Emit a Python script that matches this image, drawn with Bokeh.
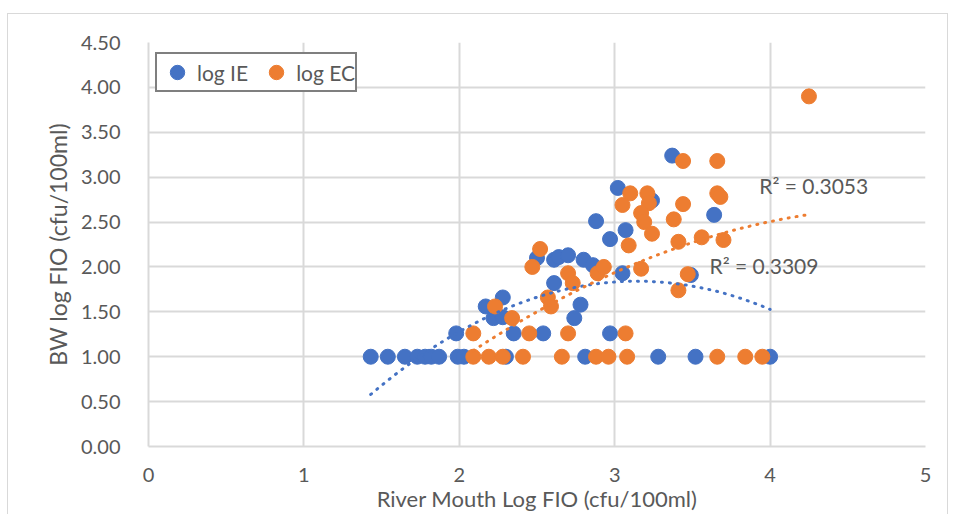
import numpy as np
from bokeh.plotting import figure
from bokeh.models import (ColumnDataSource, FixedTicker, PrintfTickFormatter,
                          Legend, LegendItem, Range1d)
from bokeh.embed import file_html
from bokeh.resources import INLINE
from bokeh.core.properties import value

# River mouth vs bathing water log FIO (cfu/100ml)
ie_x = [1.43, 1.54, 1.65, 1.73, 1.78, 1.82, 1.87, 1.99, 2.03, 2.30, 2.81, 3.28, 3.52, 4.00,
        1.98, 2.35, 2.54, 2.97,
        2.17, 2.28, 2.22, 2.28, 2.61, 2.78, 2.74,
        2.50, 2.61, 2.64, 2.70, 2.80, 2.86,
        3.02, 3.24, 2.88, 3.07, 2.97, 3.05, 3.49, 3.64, 3.37]
ie_y = [1.00, 1.00, 1.00, 1.00, 1.00, 1.00, 1.00, 1.00, 1.00, 1.00, 1.00, 1.00, 1.00, 1.00,
        1.26, 1.26, 1.26, 1.26,
        1.56, 1.66, 1.43, 1.44, 1.82, 1.58, 1.43,
        2.10, 2.08, 2.11, 2.13, 2.08, 2.02,
        2.88, 2.74, 2.51, 2.41, 2.31, 1.93, 1.91, 2.58, 3.24]

ec_x = [2.09, 2.19, 2.28, 2.41, 2.66, 2.88, 2.96, 3.08, 3.66, 3.84, 3.95,
        2.09, 2.45, 2.70, 3.07,
        2.23, 2.34, 2.57, 2.59, 2.52, 2.47, 2.70, 2.73, 2.89, 2.93,
        3.10, 3.21, 3.05, 3.22, 3.17, 3.19, 3.24, 3.09,
        3.44, 3.38, 3.41, 3.66, 3.68, 3.56, 3.70, 3.17, 3.47, 3.41,
        3.44, 3.66, 4.25]
ec_y = [1.00, 1.00, 1.00, 1.00, 1.00, 1.00, 1.00, 1.00, 1.00, 1.00, 1.00,
        1.26, 1.26, 1.26, 1.26,
        1.56, 1.43, 1.66, 1.56, 2.20, 2.00, 1.93, 1.82, 1.93, 2.00,
        2.82, 2.82, 2.69, 2.71, 2.60, 2.50, 2.37, 2.24,
        2.70, 2.53, 2.28, 2.82, 2.78, 2.33, 2.30, 1.98, 1.92, 1.74,
        3.18, 3.18, 3.90]

# second-order polynomial trendlines (c2, c1, c0) and their R² labels
ie_trend_coef = [-0.429, 2.698, -2.401]
ec_trend_coef = [-0.203, 1.989, -2.203]
r2_labels = ["R\u00b2 = 0.3053", "R\u00b2 = 0.3309"]

x_ticks = [0, 1, 2, 3, 4, 5]
y_ticks = [0.0, 0.5, 1.0, 1.5, 2.0, 2.5, 3.0, 3.5, 4.0, 4.5]

BLUE = "#4472C4"
ORANGE = "#ED7D31"
TEXT = "#595959"
GRID = "#D9D9D9"
FONT = "Lato"


def trend_curve(coef, xs, n=120):
    xx = np.linspace(min(xs), max(xs), n)
    return xx, np.polyval(coef, xx)


p = figure(width=939, height=500, output_backend="svg", toolbar_location=None,
           x_range=Range1d(0, 5), y_range=Range1d(0, 4.5),
           min_border_left=140, min_border_right=22, min_border_top=28,
           min_border_bottom=67, background_fill_color="white",
           border_fill_color="white", outline_line_color=None)
p.margin = (14, 0, 0, 8)
p.styles = {"outline": "1.5px solid #D9D9D9"}

ie_src = ColumnDataSource(dict(x=ie_x, y=ie_y))
ec_src = ColumnDataSource(dict(x=ec_x, y=ec_y))

r_ie = p.scatter("x", "y", source=ie_src, size=15, fill_color=BLUE, line_color=BLUE)
r_ec = p.scatter("x", "y", source=ec_src, size=15, fill_color=ORANGE, line_color=ORANGE)

tx, ty = trend_curve(ie_trend_coef, ie_x)
p.line(tx, ty, line_color=BLUE, line_width=3, line_dash="1 7", line_cap="round")
tx, ty = trend_curve(ec_trend_coef, ec_x)
p.line(tx, ty, line_color=ORANGE, line_width=3, line_dash="1 7", line_cap="round")

p.text(x=[3.93, 3.61], y=[2.91, 2.02], text=r2_labels, text_font=value(FONT),
       text_font_size="21px", text_color=TEXT, text_align="left",
       text_baseline="middle")

# axes
p.xaxis.ticker = FixedTicker(ticks=x_ticks)
p.yaxis.ticker = FixedTicker(ticks=y_ticks)
p.yaxis.formatter = PrintfTickFormatter(format="%.2f")
for ax in (p.xaxis[0], p.yaxis[0]):
    ax.axis_line_color = GRID
    ax.axis_line_width = 2
    ax.major_tick_line_color = None
    ax.minor_tick_line_color = None
    ax.major_label_text_font = FONT
    ax.major_label_text_font_size = "20px"
    ax.major_label_text_color = TEXT
    ax.axis_label_text_font = FONT
    ax.axis_label_text_font_style = "normal"
    ax.axis_label_text_color = TEXT
p.xaxis.major_label_standoff = 15
p.yaxis.major_label_standoff = 22
p.xaxis.axis_label = "River Mouth Log FIO (cfu/100ml)"
p.yaxis.axis_label = "BW log FIO (cfu/100ml)"
p.xaxis.axis_label_text_font_size = "22px"
p.yaxis.axis_label_text_font_size = "23px"
p.xaxis.axis_label_standoff = 0
p.yaxis.axis_label_standoff = 6

p.xgrid.ticker = FixedTicker(ticks=x_ticks)
p.ygrid.ticker = FixedTicker(ticks=y_ticks)
p.grid.grid_line_color = GRID
p.grid.grid_line_width = 2

legend = Legend(items=[LegendItem(label="log IE", renderers=[r_ie]),
                       LegendItem(label="log EC", renderers=[r_ec])],
                orientation="horizontal", location=(7, 354),
                border_line_color="black", border_line_width=2,
                background_fill_color="white", background_fill_alpha=1,
                label_text_font=FONT, label_text_font_size="21px",
                label_text_color=TEXT, glyph_width=40, glyph_height=36,
                label_standoff=0, label_width=50, spacing=8,
                padding=0, margin=0)
p.add_layout(legend)

open("out.html", "w").write(file_html(p, INLINE))
